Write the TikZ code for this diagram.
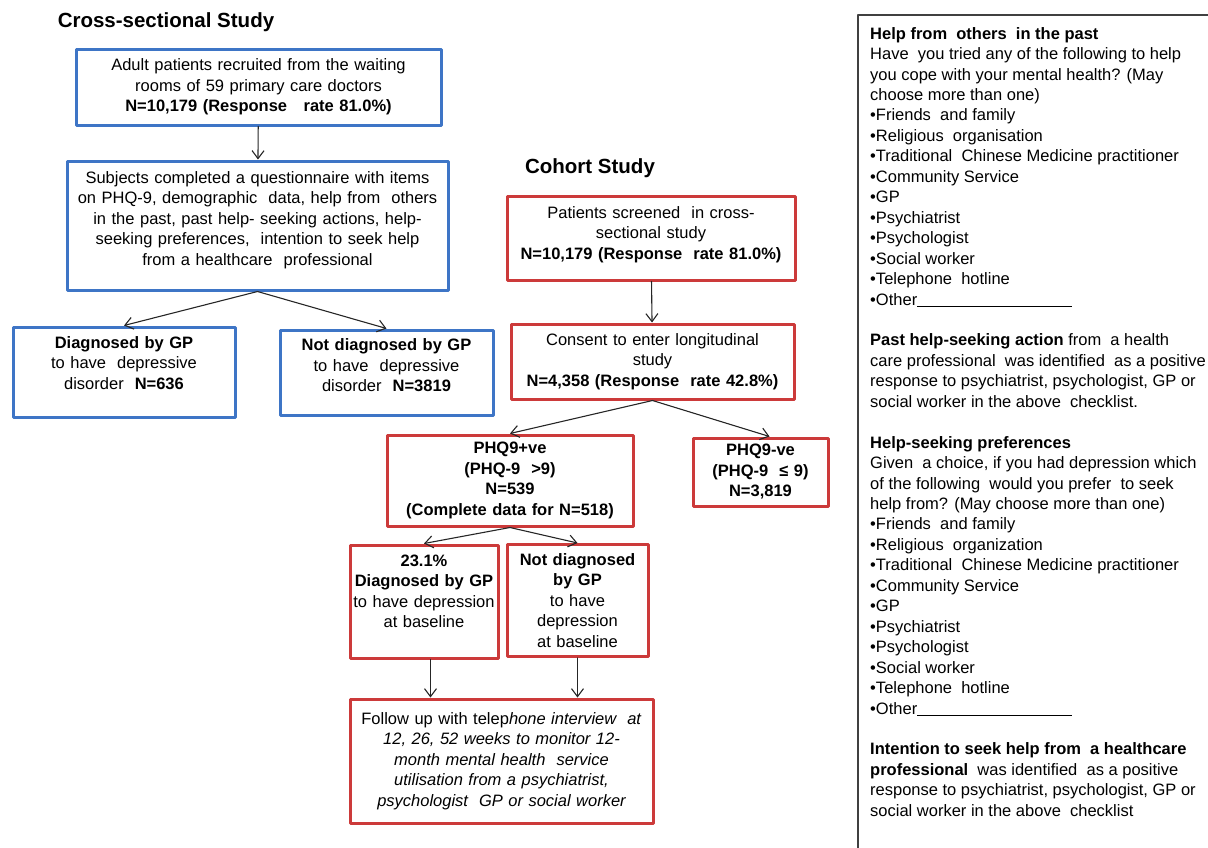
\documentclass[tikz,border=0pt]{standalone}
\usepackage{fontspec}
\setmainfont{Liberation Sans}
\usepackage{xcolor}
\usepackage{tikz}
\usetikzlibrary{arrows.meta,calc,positioning}
\definecolor{csblue}{RGB}{62,117,198}
\definecolor{cored}{RGB}{204,58,58}
\definecolor{panelgray}{RGB}{64,64,64}

\begin{document}
\begin{tikzpicture}[x=1pt,y=-1pt,line cap=round,line join=round,
  >={Straight Barb[length=8pt,width=12pt]},
  box/.style={draw,line width=3pt,align=center,inner xsep=2pt,inner ysep=0pt,
    font=\fontsize{16.5}{20.5}\selectfont},
  bluebox/.style={box,draw=csblue},
  redbox/.style={box,draw=cored},
  arr/.style={->,line width=1.1pt,black!85},
  title/.style={font=\fontsize{20.5}{24}\selectfont\bfseries}]
\useasboundingbox (0,0) rectangle (1208,847);
% cross-sectional study
\node[title] (cstitle) at (166,22) {Cross-sectional Study};
\node[bluebox,text width=361pt,minimum height=76pt] (cs1) at (258.5,87)
  {Adult patients recruited from the waiting\\rooms of 59 primary care doctors\\
   \textbf{N=10,179 (Response\ \ \ rate 81.0\%)}};
\node[bluebox,text width=377pt,minimum height=129pt] (cs2) at (257.5,225.5)
  {Subjects completed a questionnaire with items\\on PHQ-9, demographic\ \ data, help from\ \ others\\
   in the past, past help-\ seeking actions, help-\\seeking preferences,\ \ intention to seek help\\
   from a healthcare\ \ professional\\[-6.5pt]\mbox{}};
\node[bluebox,text width=218pt,minimum height=90pt] (dgp) at (124,372)
  {\textbf{Diagnosed by GP}\\to have\ \ depressive\\disorder\ \ \textbf{N=636}\\[-2.5pt]\mbox{}};
\node[bluebox,text width=209pt,minimum height=85pt] (ndgp) at (386.5,372.5)
  {\textbf{Not diagnosed by GP}\\to have\ \ depressive\\disorder\ \ \textbf{N=3819}\\[-6.5pt]\mbox{}};
\draw[arr] (cs1) -- (cs2);
\draw[arr] (cs2.south) -- (dgp.north);
\draw[arr] (cs2.south) -- (ndgp.north);
% cohort study
\node[title] (cotitle) at (590,168) {Cohort Study};
\node[redbox,text width=284pt,minimum height=84pt] (ch1) at (651,238)
  {Patients screened\ \ in cross-\\sectional study\\\textbf{N=10,179 (Response\ \ rate 81.0\%)}\\[-10.5pt]\mbox{}};
\node[redbox,text width=279pt,minimum height=75pt] (ch2) at (652.5,361.5)
  {Consent to enter longitudinal\\study\\\textbf{N=4,358 (Response\ \ rate 42.8\%)}};
\node[redbox,text width=242pt,minimum height=91pt] (pos) at (510,480.5)
  {\bfseries PHQ9+ve\\(PHQ-9\ \ >9)\\N=539\\(Complete data for N=518)};
\node[redbox,text width=131pt,minimum height=68pt] (neg) at (760.5,472)
  {\bfseries PHQ9-ve\\(PHQ-9\ \ ≤ 9)\\N=3,819};
\node[redbox,text width=146pt,inner xsep=1pt,minimum height=113pt] (pdx) at (424,601.5)
  {\textbf{23.1\%}\\\textbf{Diagnosed by GP}\\to have depression\\at baseline\\\mbox{}};
\node[redbox,text width=137pt,minimum height=112pt] (pndx) at (577.5,600.5)
  {\textbf{Not diagnosed}\\\textbf{by GP}\\to have\\depression\\at baseline};
\node[redbox,text width=299pt,minimum height=124pt] (fu) at (501.5,761)
  {Follow up with telep\textit{hone interview\ \ at}\\\itshape 12, 26, 52 weeks to monitor 12-\\
   month mental health\ \ service\\utilisation from a psychiatrist,\\psychologist\ \ GP or social worker};
\draw[arr] (ch1) -- (ch2);
\draw[arr] (ch2.south) -- (pos.north);
\draw[arr] (ch2.south) -- ([xshift=9pt]neg.north);
\draw[arr] (pos.south) -- (pdx.north);
\draw[arr] (pos.south) -- (pndx.north);
\draw[arr] ([xshift=6.5pt]pdx.south) -- ([xshift=6.5pt]pdx.south |- fu.north);
\draw[arr] (pndx.south) -- (pndx.south |- fu.north);
% questionnaire items
\draw[line width=1.5pt,panelgray] (858,15) rectangle (1220,860);
\node[anchor=north west,align=left,inner sep=0pt,font=\fontsize{16.5}{20.45}\selectfont] (items) at (870,27)
  {\textbf{Help from\ \ others\ \ in the past}\\
   Have\ \ you tried any of the following to help\\
   you cope with your mental health? (May\\
   choose more than one)\\
   \textbullet Friends\ \ and family\\
   \textbullet Religious\ \ organisation\\
   \textbullet Traditional\ \ Chinese Medicine practitioner\\
   \textbullet Community Service\\
   \textbullet GP\\
   \textbullet Psychiatrist\\
   \textbullet Psychologist\\
   \textbullet Social worker\\
   \textbullet Telephone\ \ hotline\\
   \textbullet Other\rule[-2pt]{155pt}{1pt}\\[20.45pt]
   \textbf{Past help-seeking action} from\ \ a health\\
   care professional\ \ was identified\ \ as a positive\\
   response to psychiatrist, psychologist, GP or\\
   social worker in the above\ \ checklist.\\[20.45pt]
   \textbf{Help-seeking preferences}\\
   Given\ \ a choice, if you had depression which\\
   of the following\ \ would you prefer\ \ to seek\\
   help from? (May choose more than one)\\
   \textbullet Friends\ \ and family\\
   \textbullet Religious\ \ organization\\
   \textbullet Traditional\ \ Chinese Medicine practitioner\\
   \textbullet Community Service\\
   \textbullet GP\\
   \textbullet Psychiatrist\\
   \textbullet Psychologist\\
   \textbullet Social worker\\
   \textbullet Telephone\ \ hotline\\
   \textbullet Other\rule[-2pt]{155pt}{1pt}\\[20.45pt]
   \textbf{Intention to seek help from\ \ a healthcare}\\
   \textbf{professional}\ \ was identified\ \ as a positive\\
   response to psychiatrist, psychologist, GP or\\
   social worker in the above\ \ checklist};
\end{tikzpicture}
\end{document}
